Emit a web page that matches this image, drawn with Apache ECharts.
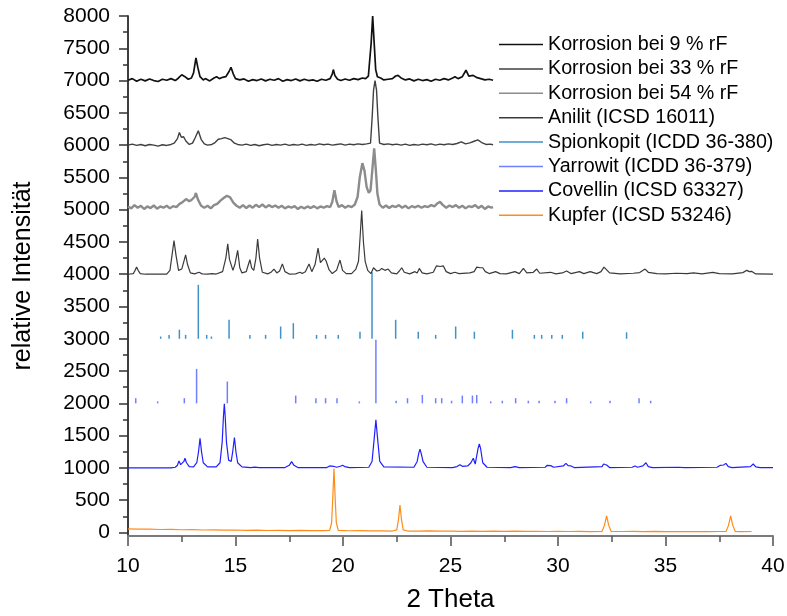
<!DOCTYPE html>
<html>
<head>
<meta charset="utf-8">
<script src="https://cdn.jsdelivr.net/npm/echarts@6/dist/echarts.min.js"></script>
<style>
  html, body { margin: 0; padding: 0; background: #fff; }
  #chart { width: 787px; height: 616px; }
</style>
</head>
<body>
<div id="chart"></div>
<script>
// [2 Theta, Intensität] pairs
const korr9 = [[10.0,7005],[10.2,7030],[10.4,6990],[10.6,7020],[10.8,6995],[11.0,7025],[11.2,7000],[11.4,6985],[11.6,7020],[11.8,7005],[12.0,7030],[12.2,7000],[12.35,7040],[12.5,7090],[12.65,7060],[12.8,7020],[12.95,7040],[13.05,7120],[13.16,7350],[13.25,7200],[13.35,7060],[13.5,7010],[13.6,7030],[13.8,6995],[14.0,7040],[14.12,7060],[14.25,7030],[14.4,7050],[14.55,7060],[14.7,7140],[14.79,7205],[14.9,7100],[15.0,7030],[15.2,7010],[15.4,7025],[15.6,6990],[15.8,7015],[16.0,7000],[16.2,7025],[16.4,6995],[16.6,7020],[16.8,7005],[17.0,7030],[17.2,6990],[17.4,7015],[17.6,7000],[17.8,7025],[18.0,6995],[18.2,7020],[18.4,7000],[18.6,7010],[18.8,6990],[19.0,7020],[19.2,7005],[19.4,7030],[19.5,7100],[19.55,7170],[19.62,7080],[19.75,7020],[19.9,7000],[20.1,7025],[20.3,7005],[20.5,7030],[20.7,7015],[20.9,7040],[21.05,7030],[21.18,7070],[21.24,7100],[21.31,7580],[21.38,8000],[21.45,7580],[21.52,7170],[21.6,7060],[21.75,7040],[21.9,7010],[22.1,7020],[22.3,7030],[22.45,7070],[22.56,7080],[22.7,7040],[22.9,7010],[23.1,7025],[23.3,6995],[23.5,7020],[23.7,7000],[23.9,7015],[24.1,6990],[24.3,7020],[24.5,7005],[24.7,7030],[24.9,7010],[25.1,7040],[25.21,7060],[25.35,7030],[25.55,7060],[25.72,7160],[25.85,7070],[26.05,7080],[26.2,7050],[26.4,7030],[26.6,7010],[26.8,7020],[26.98,7005]];

const korr33 = [[10.0,6000],[10.2,6015],[10.4,5995],[10.6,6010],[10.8,5990],[11.0,6010],[11.2,6000],[11.4,5985],[11.6,6005],[11.8,5995],[12.0,6010],[12.15,6030],[12.3,6100],[12.39,6197],[12.48,6120],[12.58,6130],[12.7,6060],[12.85,6010],[13.0,6030],[13.12,6110],[13.27,6223],[13.4,6090],[13.55,6020],[13.7,6000],[13.9,6010],[14.05,6040],[14.2,6090],[14.35,6100],[14.5,6115],[14.65,6100],[14.8,6080],[14.95,6030],[15.1,6010],[15.3,6000],[15.5,6015],[15.7,5995],[15.9,6010],[16.1,5990],[16.3,6005],[16.5,6015],[16.7,5995],[16.9,6010],[17.1,6000],[17.3,6015],[17.5,5995],[17.7,6010],[17.9,6000],[18.1,6015],[18.3,5995],[18.5,6010],[18.7,6000],[18.9,6020],[19.1,6005],[19.3,6015],[19.5,6000],[19.7,6010],[19.9,6020],[20.1,6000],[20.3,6015],[20.5,6005],[20.7,6020],[20.9,6010],[21.1,6020],[21.28,6030],[21.36,6450],[21.42,6850],[21.49,7000],[21.56,6850],[21.62,6450],[21.7,6030],[21.9,6010],[22.1,6020],[22.3,6005],[22.5,6015],[22.7,6000],[22.9,6015],[23.1,5995],[23.3,6010],[23.5,6000],[23.7,6015],[23.9,6005],[24.1,6020],[24.3,6000],[24.5,6015],[24.7,6005],[24.9,6020],[25.1,6010],[25.3,6025],[25.5,6050],[25.7,6020],[25.9,6035],[26.1,6060],[26.27,6080],[26.45,6040],[26.65,6010],[26.85,6015],[26.98,6005]];

const korr54 = [[10.0,5050],[10.15,5020],[10.3,5070],[10.45,5030],[10.6,5060],[10.75,5010],[10.9,5050],[11.05,5025],[11.2,5065],[11.35,5015],[11.5,5050],[11.65,5030],[11.8,5060],[11.95,5020],[12.1,5055],[12.25,5040],[12.4,5090],[12.55,5120],[12.7,5165],[12.85,5130],[12.95,5150],[13.1,5200],[13.16,5258],[13.25,5160],[13.4,5060],[13.55,5030],[13.7,5060],[13.85,5020],[14.0,5070],[14.15,5090],[14.3,5140],[14.45,5180],[14.6,5215],[14.75,5190],[14.9,5110],[15.05,5060],[15.2,5030],[15.35,5070],[15.5,5025],[15.65,5065],[15.8,5030],[15.95,5075],[16.1,5040],[16.25,5080],[16.4,5035],[16.55,5070],[16.7,5040],[16.85,5065],[17.0,5030],[17.15,5060],[17.3,5020],[17.45,5050],[17.6,5030],[17.75,5055],[17.9,5010],[18.05,5045],[18.2,5020],[18.35,5050],[18.5,5025],[18.65,5055],[18.8,5020],[18.95,5050],[19.1,5030],[19.25,5055],[19.4,5040],[19.5,5120],[19.6,5300],[19.7,5130],[19.8,5040],[19.95,5070],[20.1,5030],[20.25,5060],[20.4,5040],[20.55,5080],[20.68,5200],[20.78,5500],[20.9,5720],[21.0,5600],[21.1,5350],[21.2,5260],[21.28,5300],[21.36,5600],[21.45,5950],[21.53,5600],[21.6,5250],[21.7,5080],[21.85,5030],[22.0,5065],[22.15,5025],[22.3,5060],[22.45,5040],[22.6,5070],[22.75,5030],[22.9,5060],[23.05,5020],[23.2,5055],[23.35,5035],[23.5,5060],[23.65,5030],[23.8,5055],[23.95,5040],[24.1,5070],[24.25,5050],[24.4,5100],[24.51,5120],[24.65,5070],[24.8,5030],[24.95,5065],[25.1,5040],[25.25,5070],[25.4,5030],[25.55,5060],[25.7,5020],[25.85,5055],[26.0,5040],[26.15,5070],[26.3,5025],[26.45,5060],[26.6,5010],[26.75,5050],[26.9,5030],[26.98,5040]];

const anilit = [[10,4000],[10.25,4010],[10.33,4060],[10.4,4110],[10.47,4060],[10.57,4010],[10.8,4000],[11.8,4002],[11.95,4060],[12.05,4300],[12.14,4523],[12.23,4300],[12.35,4060],[12.5,4080],[12.6,4200],[12.68,4300],[12.77,4150],[12.9,4020],[13.1,4005],[13.3,4030],[13.45,4005],[13.7,4003],[13.9,4010],[14.1,4003],[14.4,4040],[14.55,4250],[14.64,4470],[14.72,4230],[14.78,4200],[14.88,4060],[14.97,4150],[15.1,4370],[15.2,4100],[15.3,4020],[15.5,4040],[15.6,4150],[15.67,4225],[15.75,4100],[15.85,4060],[15.95,4250],[16.03,4545],[16.12,4250],[16.25,4030],[16.5,4005],[16.65,4030],[16.79,4080],[16.92,4020],[17.05,4050],[17.18,4160],[17.3,4040],[17.5,4003],[17.8,4005],[18.0,4030],[18.1,4010],[18.25,4040],[18.42,4160],[18.55,4040],[18.7,4150],[18.84,4405],[18.95,4180],[19.02,4200],[19.13,4250],[19.22,4200],[19.35,4070],[19.5,4010],[19.7,4060],[19.86,4220],[19.98,4060],[20.15,4010],[20.4,4010],[20.6,4080],[20.72,4200],[20.8,4600],[20.87,4988],[20.95,4500],[21.03,4200],[21.15,4060],[21.3,4010],[21.42,4100],[21.49,4130],[21.57,4050],[21.7,4060],[21.8,4090],[21.95,4060],[22.1,4080],[22.25,4020],[22.5,4005],[22.62,4050],[22.73,4100],[22.85,4030],[23.1,4005],[23.35,4040],[23.45,4020],[23.55,4090],[23.68,4020],[23.9,4005],[24.2,4030],[24.35,4130],[24.43,4160],[24.52,4120],[24.66,4130],[24.8,4040],[25.0,4010],[25.2,4030],[25.4,4010],[25.9,4020],[26.1,4040],[26.22,4110],[26.29,4130],[26.38,4100],[26.5,4100],[26.62,4040],[26.8,4010],[27.1,4040],[27.3,4010],[27.6,4005],[28.0,4040],[28.2,4010],[28.39,4090],[28.55,4020],[28.85,4030],[29.01,4080],[29.15,4015],[29.65,4030],[29.9,4005],[30.2,4020],[30.4,4050],[30.6,4010],[31.0,4040],[31.2,4010],[31.5,4040],[31.8,4010],[32.0,4040],[32.14,4110],[32.22,4080],[32.4,4020],[32.9,4005],[33.5,4015],[33.8,4025],[34.05,4080],[34.2,4030],[34.6,4010],[35.0,4005],[35.5,4015],[36.0,4010],[36.3,4020],[36.7,4005],[37.2,4030],[37.5,4010],[38.1,4005],[38.6,4025],[38.78,4060],[38.9,4040],[39.0,4045],[39.2,4005],[40,4003]];

// stick patterns: positions and heights, drawn up from a base level
const spionBase = 3000;
const spionPos = [11.52,11.91,12.39,12.68,13.27,13.66,13.88,14.70,15.67,16.40,17.10,17.69,18.77,19.19,19.78,20.79,21.35,22.45,23.50,24.31,25.24,26.11,27.88,28.90,29.24,29.71,30.20,31.15,33.19];
const spionTop = [3035,3060,3140,3060,3836,3060,3035,3294,3060,3060,3190,3242,3060,3060,3060,3110,4030,3294,3110,3060,3190,3110,3139,3060,3060,3060,3060,3110,3100];

const yarroBase = 2000;
const yarroPos = [10.36,11.38,12.62,13.19,14.62,17.80,18.74,19.19,19.72,20.76,21.53,22.47,23.00,23.69,24.31,24.59,25.05,25.55,26.02,26.22,26.87,27.41,28.03,28.62,29.12,29.86,30.40,31.52,32.42,33.77,34.31];
const yarroTop = [2080,2030,2080,2534,2338,2120,2080,2080,2080,2030,2984,2040,2080,2130,2080,2080,2040,2120,2120,2130,2030,2040,2080,2040,2040,2040,2080,2030,2040,2080,2040];

const covellin = [[10,1000],[12.0,1000],[12.2,1010],[12.3,1040],[12.37,1108],[12.45,1050],[12.52,1040],[12.6,1100],[12.65,1150],[12.72,1080],[12.85,1020],[13.05,1015],[13.2,1080],[13.28,1250],[13.35,1460],[13.42,1250],[13.5,1080],[13.7,1015],[14.1,1015],[14.28,1080],[14.38,1400],[14.44,1800],[14.48,1992],[14.52,1800],[14.58,1400],[14.68,1120],[14.8,1100],[14.87,1250],[14.95,1470],[15.02,1250],[15.1,1080],[15.3,1015],[15.7,1005],[15.9,1012],[16.1,1003],[17.3,1005],[17.5,1040],[17.61,1098],[17.72,1040],[17.9,1005],[19.25,1005],[19.38,1030],[19.47,1050],[19.56,1025],[19.7,1010],[19.88,1025],[19.98,1040],[20.08,1020],[20.3,1005],[21.2,1010],[21.35,1100],[21.45,1450],[21.53,1744],[21.61,1450],[21.71,1100],[21.9,1015],[23.3,1010],[23.45,1100],[23.52,1220],[23.58,1290],[23.64,1220],[23.72,1100],[23.9,1010],[25.1,1005],[25.3,1020],[25.44,1050],[25.55,1025],[25.8,1030],[25.95,1080],[26.06,1150],[26.15,1060],[26.2,1080],[26.28,1300],[26.34,1372],[26.4,1300],[26.5,1080],[26.7,1010],[27.8,1005],[28.0,1020],[28.2,1005],[29.4,1010],[29.5,1040],[29.58,1060],[29.66,1035],[29.8,1010],[30.25,1030],[30.37,1070],[30.47,1035],[30.6,1030],[30.75,1005],[32.05,1020],[32.12,1060],[32.19,1070],[32.26,1045],[32.4,1005],[33.45,1010],[33.58,1030],[33.7,1010],[33.95,1030],[34.09,1080],[34.2,1020],[34.4,1005],[35.6,1010],[35.9,1003],[37.4,1010],[37.55,1040],[37.61,1035],[37.7,1045],[37.81,1070],[37.92,1020],[38.1,1005],[38.95,1020],[39.08,1060],[39.2,1015],[39.4,1005],[40,1003]];

const kupfer = [[10,55],[10.5,50],[11,53],[11.5,46],[12,48],[12.5,42],[13,45],[13.5,38],[14,41],[14.5,36],[15,38],[15.5,33],[16,35],[16.5,30],[17,33],[17.5,28],[18,31],[18.5,27],[19,29],[19.38,32],[19.47,150],[19.52,500],[19.58,990],[19.64,500],[19.69,150],[19.78,32],[20.3,26],[20.8,28],[21.3,23],[21.8,25],[22.3,22],[22.5,40],[22.58,200],[22.65,426],[22.72,200],[22.8,40],[23.0,22],[23.5,20],[24,23],[24.5,19],[25,22],[25.5,18],[26,21],[26.5,17],[27,20],[27.5,16],[28,19],[28.5,16],[29,18],[29.5,15],[30,18],[30.5,15],[31,17],[31.5,14],[32.05,18],[32.16,110],[32.26,256],[32.36,110],[32.47,18],[33,15],[33.5,17],[34,14],[34.5,16],[35,13],[35.5,15],[36,13],[36.5,15],[37,13],[37.5,15],[37.82,18],[37.93,110],[38.03,256],[38.13,110],[38.24,18],[38.5,14],[39,15]];

const yLabelValues = [0,500,1000,1500,2000,2500,3000,3500,4000,4500,5000,5500,6000,6500,7000,7500,8000];
const yMinorValues = [250,750,1250,1750,2250,2750,3250,3750,4250,4750,5250,5750,6250,6750,7250,7750];

const names = ['Korrosion bei 9 % rF','Korrosion bei 33 % rF','Korrosion bei 54 % rF','Anilit (ICSD 16011)','Spionkopit (ICDD 36-380)','Yarrowit (ICDD 36-379)','Covellin (ICSD 63327)','Kupfer (ICSD 53246)'];

const chart = echarts.init(document.getElementById('chart'));

function lineSeries(name, data, color, width) {
  return {
    name: name, type: 'line', data: data, color: color,
    showSymbol: false, symbol: 'none', animation: false,
    lineStyle: { color: color, width: width },
  };
}

function stickSeries(name, pos, top, base, color) {
  return {
    name: name, type: 'custom', color: color, animation: false,
    encode: { x: 0, y: [1, 2] },
    data: pos.map((x, i) => [x, top[i], base]),
    renderItem(params, api) {
      const p1 = api.coord([api.value(0), api.value(1)]);
      const p2 = api.coord([api.value(0), api.value(2)]);
      return {
        type: 'line',
        shape: { x1: p1[0], y1: p1[1], x2: p2[0], y2: p2[1] },
        style: { stroke: color, lineWidth: 1.5 },
      };
    },
  };
}

const font = 'Liberation Sans, Arial, sans-serif';

const option = {
  backgroundColor: '#fff',
  animation: false,
  grid: { left: 128, right: 14, top: 16, bottom: 80, containLabel: false, outerBoundsMode: 'none' },
  legend: {
    orient: 'vertical',
    left: 494, top: 27.5,
    icon: 'rect',
    itemWidth: 44, itemHeight: 1.5, itemGap: 0.4,
    textStyle: { fontFamily: font, fontSize: 19.7, lineHeight: 24, color: '#000' },
    data: names,
  },
  xAxis: {
    type: 'value', min: 10, max: 40, interval: 5,
    name: '2 Theta', nameLocation: 'middle', nameGap: 51,
    nameTextStyle: { fontFamily: font, fontSize: 26, color: '#000' },
    axisLine: { show: true, onZero: false, lineStyle: { color: '#7a7a7a', width: 2 } },
    axisTick: { show: true, length: 10, lineStyle: { color: '#7a7a7a', width: 2 } },
    minorTick: { show: true, splitNumber: 2, length: 6, lineStyle: { color: '#555', width: 1.5 } },
    axisLabel: { fontFamily: font, fontSize: 21, color: '#000', margin: 20 },
    splitLine: { show: false },
  },
  yAxis: [
    {
      type: 'value', min: -55, max: 8000,
      name: 'relative Intensität', nameLocation: 'middle', nameGap: 92,
      nameTextStyle: { fontFamily: font, fontSize: 25, color: '#000' },
      axisLine: { show: true, onZero: false, lineStyle: { color: '#333', width: 1.5 } },
      axisTick: { show: true, length: 9, customValues: yLabelValues, lineStyle: { color: '#333', width: 1.5 } },
      axisLabel: { fontFamily: font, fontSize: 21, color: '#000', margin: 18, customValues: yLabelValues,
        formatter: (v) => String(v) },
      splitLine: { show: false },
    },
    {
      type: 'value', min: -55, max: 8000, position: 'left', offset: 0,
      axisLine: { show: true, onZero: false, lineStyle: { color: '#333', width: 1.5 } },
      axisTick: { show: true, length: 5, customValues: yMinorValues, lineStyle: { color: '#333', width: 1.5 } },
      axisLabel: { show: false },
      splitLine: { show: false },
    },
  ],
  series: [
    lineSeries(names[7], kupfer, '#ff8c1a', 1.2),
    lineSeries(names[6], covellin, '#2020ff', 1.2),
    stickSeries(names[5], yarroPos, yarroTop, yarroBase, '#7080ff'),
    stickSeries(names[4], spionPos, spionTop, spionBase, '#3f93c8'),
    lineSeries(names[3], anilit, '#3a3a3a', 1.2),
    lineSeries(names[2], korr54, '#8c8c8c', 2.4),
    lineSeries(names[1], korr33, '#404040', 1.4),
    lineSeries(names[0], korr9, '#111', 1.7),
  ],
};

chart.setOption(option);
</script>
</body>
</html>
